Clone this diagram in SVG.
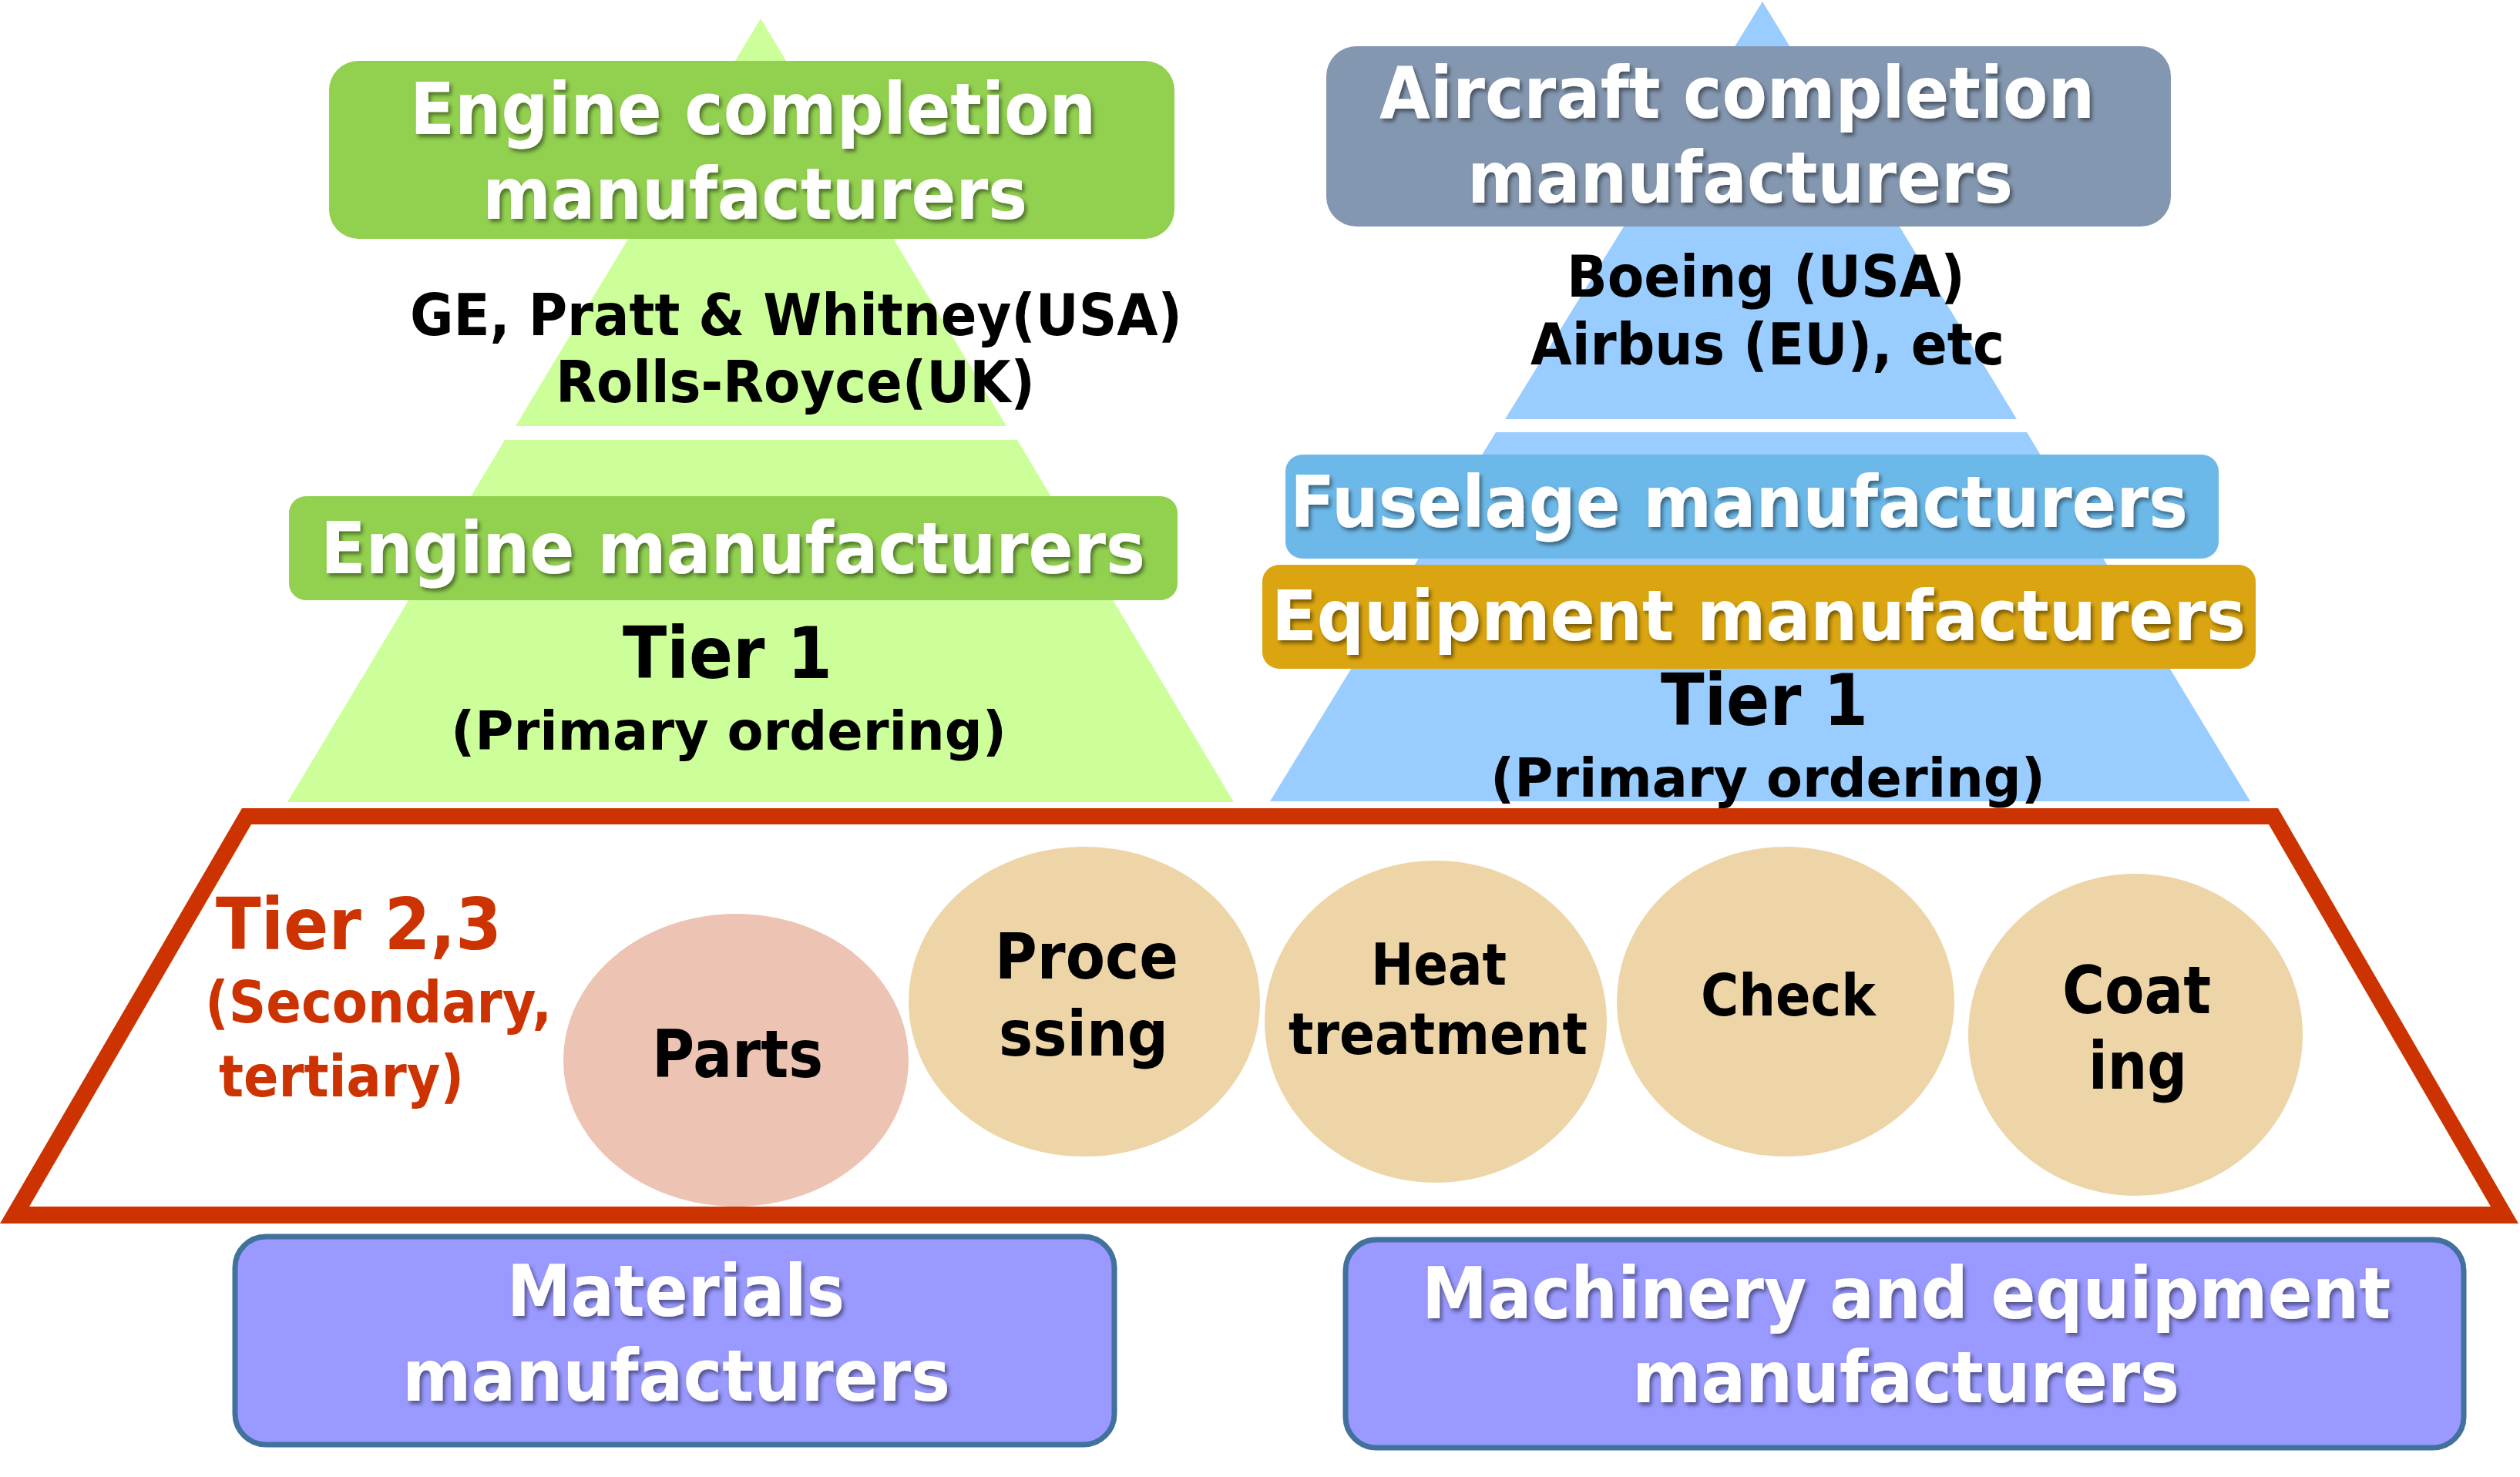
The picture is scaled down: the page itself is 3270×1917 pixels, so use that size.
<svg xmlns="http://www.w3.org/2000/svg" width="3270" height="1917" viewBox="0 0 3270 1917">
<defs>
<style>
text{font-family:"DejaVu Sans","Verdana","Liberation Sans",sans-serif;font-weight:bold;lengthAdjust:spacingAndGlyphs}
.w{fill:#FFFFFF;filter:url(#ts)}
.k{fill:#000000}
.r{fill:#CC3300}
.tan{fill:#EED5A7}
.pink{fill:#EDC3B3}
.purple{fill:#9999FF;stroke:#41719C;stroke-width:7}
</style>
<filter id="ts" x="-5%" y="-20%" width="110%" height="150%">
<feDropShadow dx="3" dy="4" stdDeviation="2.5" flood-color="#000000" flood-opacity="0.45"/>
</filter>
</defs>
<rect x="0" y="0" width="3270" height="1917" fill="#FFFFFF"/>

<g id="engine-pyramid">
<polygon points="987,24 1306,553 669,553" fill="#CCFF99"/>
<polygon points="655,571 1320,571 1601,1041 373,1041" fill="#CCFF99"/>
</g>
<g id="aircraft-pyramid">
<polygon points="2287,2 2617,544 1953,544" fill="#99CCFF"/>
<polygon points="1941,561 2630,561 2920,1040 1648,1040" fill="#99CCFF"/>
</g>

<g id="engine-completion">
<rect x="427" y="79" width="1097" height="231" rx="38" fill="#92D050"/>
<text class="w" x="532" y="174" font-size="92" textLength="890" lengthAdjust="spacingAndGlyphs">Engine completion</text>
<text class="w" x="626" y="284" font-size="92" textLength="707" lengthAdjust="spacingAndGlyphs">manufacturers</text>
</g>
<g id="engine-makers-names">
<text class="k" x="532" y="435" font-size="74" textLength="1002" lengthAdjust="spacingAndGlyphs">GE, Pratt &amp; Whitney(USA)</text>
<text class="k" x="721" y="522" font-size="74" textLength="622" lengthAdjust="spacingAndGlyphs">Rolls-Royce(UK)</text>
</g>

<g id="aircraft-completion">
<rect x="1721" y="60" width="1096" height="234" rx="39" fill="#8497B0"/>
<text class="w" x="1790" y="153" font-size="92" textLength="928" lengthAdjust="spacingAndGlyphs">Aircraft completion</text>
<text class="w" x="1904" y="263" font-size="92" textLength="708" lengthAdjust="spacingAndGlyphs">manufacturers</text>
</g>
<g id="aircraft-makers-names">
<text class="k" x="2033" y="385" font-size="74" textLength="517" lengthAdjust="spacingAndGlyphs">Boeing (USA)</text>
<text class="k" x="1986" y="473" font-size="74" textLength="615" lengthAdjust="spacingAndGlyphs">Airbus (EU), etc</text>
</g>

<g id="engine-manufacturers">
<rect x="375" y="644" width="1153" height="135" rx="22" fill="#92D050"/>
<text class="w" x="416" y="744" font-size="92" textLength="1070" lengthAdjust="spacingAndGlyphs">Engine manufacturers</text>
</g>
<g id="engine-tier1">
<text class="k" x="808" y="880" font-size="93" textLength="272" lengthAdjust="spacingAndGlyphs">Tier 1</text>
<text class="k" x="585" y="973" font-size="70" textLength="721" lengthAdjust="spacingAndGlyphs">(Primary ordering)</text>
</g>

<g id="fuselage-manufacturers">
<rect x="1668" y="590" width="1211" height="135" rx="22" fill="#6CB8E8"/>
<text class="w" x="1674" y="684" font-size="92" textLength="1165" lengthAdjust="spacingAndGlyphs">Fuselage manufacturers</text>
</g>
<g id="equipment-manufacturers">
<rect x="1638" y="733" width="1289" height="135" rx="22" fill="#DAA510"/>
<text class="w" x="1650" y="831" font-size="90" textLength="1264" lengthAdjust="spacingAndGlyphs">Equipment manufacturers</text>
</g>
<g id="aircraft-tier1">
<text class="k" x="2155" y="941" font-size="93" textLength="269" lengthAdjust="spacingAndGlyphs">Tier 1</text>
<text class="k" x="1934" y="1034" font-size="70" textLength="720" lengthAdjust="spacingAndGlyphs">(Primary ordering)</text>
</g>

<g id="parts">
<ellipse cx="955" cy="1376" rx="224" ry="190" class="pink"/>
<text class="k" x="846" y="1398" font-size="85" textLength="222" lengthAdjust="spacingAndGlyphs">Parts</text>
</g>
<g id="processing">
<ellipse cx="1407" cy="1300" rx="228" ry="201" class="tan"/>
<text class="k" x="1291" y="1270" font-size="82" textLength="238" lengthAdjust="spacingAndGlyphs">Proce</text>
<text class="k" x="1296" y="1370" font-size="82" textLength="220" lengthAdjust="spacingAndGlyphs">ssing</text>
</g>
<g id="heat-treatment">
<ellipse cx="1863" cy="1326" rx="222" ry="209" class="tan"/>
<text class="k" x="1779" y="1278" font-size="74" textLength="176" lengthAdjust="spacingAndGlyphs">Heat</text>
<text class="k" x="1672" y="1368" font-size="74" textLength="388" lengthAdjust="spacingAndGlyphs">treatment</text>
</g>
<g id="check">
<ellipse cx="2317" cy="1300" rx="219" ry="201" class="tan"/>
<text class="k" x="2207" y="1318" font-size="75" textLength="227" lengthAdjust="spacingAndGlyphs">Check</text>
</g>
<g id="coating">
<ellipse cx="2771" cy="1343" rx="217" ry="209" class="tan"/>
<text class="k" x="2676" y="1315" font-size="86" textLength="193" lengthAdjust="spacingAndGlyphs">Coat</text>
<text class="k" x="2710" y="1413" font-size="86" textLength="128" lengthAdjust="spacingAndGlyphs">ing</text>
</g>

<g id="tier23">
<path d="M314,1049 L2956,1049 L3268,1588 L0,1588 Z M326,1070 L38,1566 L3232,1566 L2944,1070 Z" fill="#CC3300" fill-rule="evenodd"/>
<text class="r" x="280" y="1232" font-size="93" textLength="371" lengthAdjust="spacingAndGlyphs">Tier 2,3</text>
<text class="r" x="266" y="1327" font-size="75" textLength="450" lengthAdjust="spacingAndGlyphs">(Secondary,</text>
<text class="r" x="284" y="1423" font-size="75" textLength="318" lengthAdjust="spacingAndGlyphs">tertiary)</text>
</g>

<g id="materials-manufacturers">
<rect x="305" y="1605" width="1141" height="270" rx="40" class="purple"/>
<text class="w" x="658" y="1708" font-size="93" textLength="438" lengthAdjust="spacingAndGlyphs">Materials</text>
<text class="w" x="522" y="1818" font-size="93" textLength="711" lengthAdjust="spacingAndGlyphs">manufacturers</text>
</g>
<g id="machinery-manufacturers">
<rect x="1746" y="1609" width="1451" height="270" rx="40" class="purple"/>
<text class="w" x="1845" y="1711" font-size="93" textLength="1257" lengthAdjust="spacingAndGlyphs">Machinery and equipment</text>
<text class="w" x="2118" y="1820" font-size="93" textLength="710" lengthAdjust="spacingAndGlyphs">manufacturers</text>
</g>

<g id="connectors"></g>
</svg>
